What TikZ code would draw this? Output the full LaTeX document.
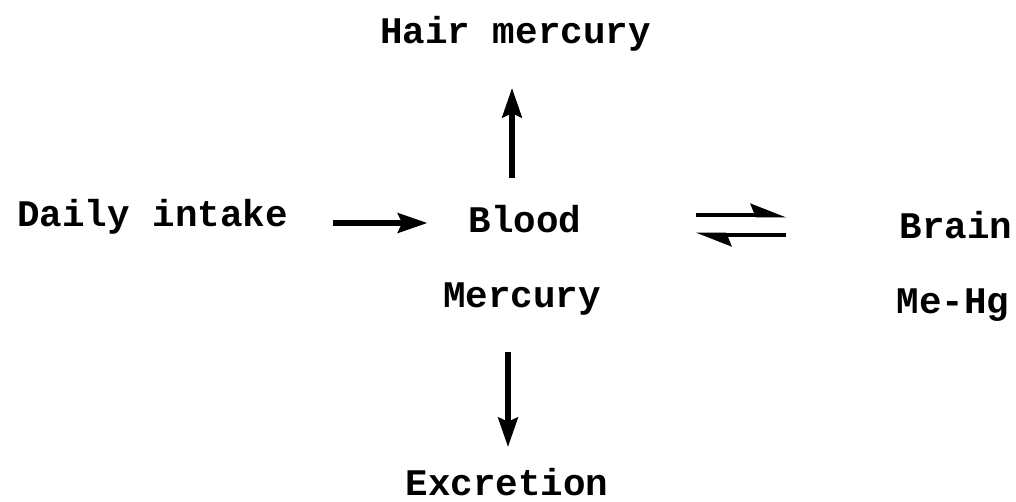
\documentclass[tikz,border=0pt]{standalone}
\usepackage{fontspec}
\setmonofont{Liberation Mono}
\usetikzlibrary{arrows.meta}

\begin{document}
\begin{tikzpicture}[x=0.025cm, y=-0.025cm,
    font=\ttfamily\bfseries\fontsize{26.7}{30}\selectfont,
    lbl/.style={inner sep=0pt, anchor=base},
    arr/.style={line width=3.6pt, -{Stealth[length=21pt, width=14pt, inset=3pt]}},
    harp/.style={line width=3.4pt, -{Stealth[harpoon, length=21pt, width=16pt, inset=3pt]}}]

    % ------------------------------------------------------------
    % Frame
    % ------------------------------------------------------------

    \useasboundingbox (0,0) rectangle (1016,501);

    % ------------------------------------------------------------
    % Labels
    % ------------------------------------------------------------

    \node[lbl] (hair)      at (515.5,43)  {Hair mercury};
    \node[lbl] (intake)    at (152.5,226) {Daily intake};
    \node[lbl] (blood)     at (525,232)   {Blood};
    \node[lbl] (mercury)   at (522,307)   {Mercury};
    \node[lbl] (brain)     at (956,238)   {Brain};
    \node[lbl] (mehg)      at (953,313)   {Me-Hg};
    \node[lbl] (excretion) at (507,495)   {Excretion};

    % ------------------------------------------------------------
    % Arrows
    % ------------------------------------------------------------

    \draw[arr] ([shift={(45,-3)}]intake.base east)
        -- ([shift={(-41,-9)}]blood.base west);

    \draw[arr] ([shift={(-13,-54)}]blood.base)
        -- ([shift={(-3.5,45)}]hair.base);

    \draw[arr] ([shift={(-14,45)}]mercury.base)
        -- ([shift={(1,-48)}]excretion.base);

    % ------------------------------------------------------------
    % Equilibrium
    % ------------------------------------------------------------

    \draw[harp] ([shift={(114,-17)}]blood.base east)
        -- ([shift={(-113,-23)}]brain.base west);

    \draw[harp] ([shift={(-113,-3)}]brain.base west)
        -- ([shift={(114,3)}]blood.base east);
\end{tikzpicture}
\end{document}
